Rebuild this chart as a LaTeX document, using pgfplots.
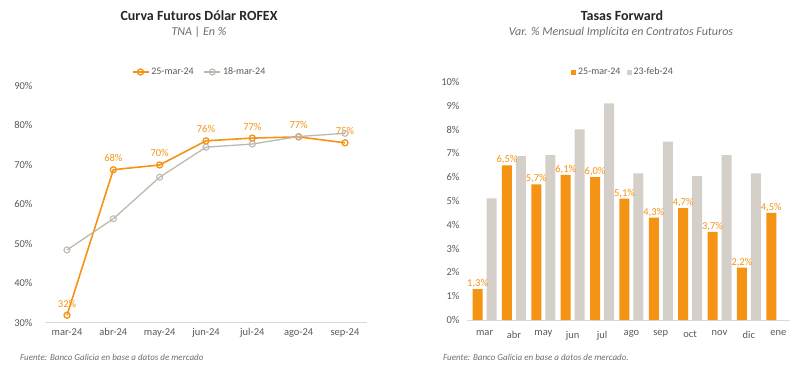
\documentclass[border=0pt]{standalone}
\usepackage{fontspec}
\setmainfont{Carlito}
\usepackage{pgfplots}
\pgfplotsset{compat=1.18}
\definecolor{org}{RGB}{245,147,20}
\definecolor{lgray}{RGB}{191,184,176}
\definecolor{bgray}{RGB}{212,207,201}
\definecolor{tickc}{RGB}{89,89,89}
\definecolor{subc}{RGB}{110,110,110}
\begin{document}
\begin{tikzpicture}
\useasboundingbox (0pt,0pt) rectangle (800pt,364pt);
% titles
\node[font=\bfseries\fontsize{14}{16}\selectfont, text=black!85] at (199pt,348pt) {Curva Futuros Dólar ROFEX};
\node[font=\itshape\fontsize{12}{14}\selectfont, text=subc] at (199pt,332pt) {TNA | En \%};
\node[font=\bfseries\fontsize{14}{16}\selectfont, text=black!85] at (622pt,348pt) {Tasas Forward};
\node[font=\itshape\fontsize{12}{14}\selectfont, text=subc] at (621pt,332pt) {Var. \% Mensual Implícita en Contratos Futuros};
\node[font=\itshape\fontsize{9}{10}\selectfont, text=subc, anchor=west, inner sep=0] at (20pt,7pt) {Fuente: Banco Galicia en base a datos de mercado};
\node[font=\itshape\fontsize{9}{10}\selectfont, text=subc, anchor=west, inner sep=0] at (443pt,7pt) {Fuente: Banco Galicia en base a datos de mercado.};

\begin{axis}[
  at={(45pt,41.3pt)}, anchor=south west, scale only axis,
  width=322pt, height=237.2pt,
  xmin=-0.475, xmax=6.475, ymin=30, ymax=90,
  ytick={30,40,...,90},
  yticklabel={\pgfmathprintnumber{\tick}\%},
  xtick={0,...,6},
  xticklabels={mar-24,abr-24,may-24,jun-24,jul-24,ago-24,sep-24},
  axis x line*=bottom, axis y line*=left,
  x axis line style={draw=black!15, line width=0.8pt, -},
  y axis line style={draw=none},
  major tick style={draw=none},
  tick label style={font=\fontsize{10.5}{12}\selectfont, text=tickc},
  yticklabel style={xshift=-9pt},
  xticklabel style={yshift=-2pt},
  /pgf/number format/assume math mode=true,
  legend style={at={(0.48,1.057)}, anchor=center, draw=none, fill=none,
    font=\fontsize{10}{12}\selectfont, text=tickc, legend columns=2,
    /tikz/every even column/.append style={column sep=8pt}},
  legend image code/.code={\draw[mark repeat=2,mark phase=2,#1] plot coordinates {(0pt,0pt) (8pt,0pt) (16pt,0pt)};},
  clip=false,
]
\addplot[org, line width=1.6pt, mark=o, mark size=3pt, mark options={fill=white, line width=1.3pt},
  point meta=explicit symbolic,
  nodes near coords={\pgfplotspointmeta\%},
  every node near coord/.append style={font=\fontsize{10.5}{12}\selectfont, text=org, yshift=4pt}]
  coordinates {(0,31.9) [32] (1,68.7) [68] (2,69.9) [70] (3,76.0) [76] (4,76.7) [77] (5,77.0) [77] (6,75.5) [75]};
\addlegendentry{25-mar-24}
\addplot[lgray, line width=1.3pt, mark=o, mark size=3pt, mark options={fill=white, line width=1.1pt}]
  coordinates {(0,48.4) (1,56.3) (2,66.8) (3,74.4) (4,75.2) (5,77.1) (6,77.9)};
\addlegendentry{18-mar-24}
\end{axis}

\begin{axis}[
  at={(467pt,44pt)}, anchor=south west, scale only axis,
  width=323pt, height=238pt,
  xmin=-0.6, xmax=10.4, ymin=0, ymax=10,
  ybar=4pt, bar width=10pt,
  ytick={0,1,...,10},
  yticklabel={\pgfmathprintnumber{\tick}\%},
  xtick={0,...,10},
  xticklabels={mar,abr,may,jun,jul,ago,sep,oct,nov,dic,ene},
  axis x line*=bottom, axis y line*=left,
  x axis line style={draw=black!15, line width=0.8pt, -},
  y axis line style={draw=none},
  major tick style={draw=none},
  tick label style={font=\fontsize{10.5}{12}\selectfont, text=tickc},
  yticklabel style={xshift=-4pt},
  xticklabel style={yshift=-3pt},
  /pgf/number format/assume math mode=true,
  legend style={at={(0.483,1.042)}, anchor=center, draw=none, fill=none,
    font=\fontsize{10}{12}\selectfont, text=tickc, legend columns=2,
    /tikz/every even column/.append style={column sep=4pt}},
  legend image code/.code={\fill[#1] (0pt,-2.5pt) rectangle (5pt,2.5pt);},
  clip=false,
]
\addplot[fill=org, draw=none, point meta=y,
  nodes near coords={\pgfmathprintnumber[use comma,fixed,fixed zerofill,precision=1]{\pgfplotspointmeta}\%},
  every node near coord/.append style={font=\fontsize{10.5}{12}\selectfont, text=org, inner sep=1pt}]
  coordinates {(0,1.3) (1,6.5) (2,5.7) (3,6.1) (4,6.0) (5,5.1) (6,4.3) (7,4.7) (8,3.7) (9,2.2) (10,4.5)};
\addlegendentry{25-mar-24}
\addplot[fill=bgray, draw=none]
  coordinates {(0,5.11) (1,6.89) (2,6.93) (3,8.01) (4,9.1) (5,6.16) (6,7.49) (7,6.05) (8,6.93) (9,6.16)};
\addlegendentry{23-feb-24}
\end{axis}
\end{tikzpicture}
\end{document}
